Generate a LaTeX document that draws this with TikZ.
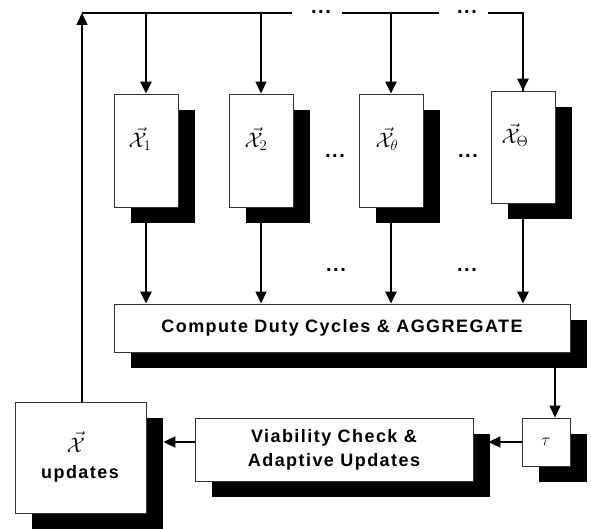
\RequirePackage{fix-cm}
\documentclass[tikz,border=0pt]{standalone}
\usepackage{fontspec}
\setsansfont{Liberation Sans}[LetterSpace=8]
\usetikzlibrary{arrows.meta,shadows}
\begin{document}
\begin{tikzpicture}[x=1pt,y=-1pt,
  shbox/.style={draw=black!80,line width=0.9pt,fill=white,inner sep=0pt,
     drop shadow={shadow xshift=17pt,shadow yshift=-16pt,fill=black,opacity=1}},
  xbox/.style={shbox,minimum width=64pt,minimum height=113pt},
  lbl/.style={font=\sffamily\bfseries\fontsize{18}{24}\selectfont,align=center},
  mlbl/.style={font=\fontsize{21}{23}\selectfont,inner sep=1pt},
  tlbl/.style={font=\fontsize{17}{19}\selectfont},
  dotsn/.style={font=\sffamily\bfseries\fontsize{20}{20}\selectfont,inner sep=0pt,text height=4pt,text depth=0pt},
  thk/.style={line width=2.6pt},
  thn/.style={line width=1.3pt},
  tip/.style={-{Triangle[length=12pt,width=11pt]}},
]
\useasboundingbox (0,0) rectangle (591,529);
% boxes
\node[xbox] (b1) at (146,150.5) {};
\node[xbox] (b2) at (261,150.5) {};
\node[xbox] (b3) at (391,150.5) {};
\node[xbox,minimum height=112pt] (b4) at (523,147) {};
\node[mlbl] (l1) at (140,139) {$\vec{\mathcal{X}}_1$};
\node[mlbl] (l2) at (256,139) {$\vec{\mathcal{X}}_2$};
\node[mlbl] (l3) at (387,139) {$\vec{\mathcal{X}}_\theta$};
\node[mlbl] (l4) at (515,135) {$\vec{\mathcal{X}}_\Theta$};
\node[shbox,minimum width=456pt,minimum height=48pt,lbl] (cmp) at (342,328) {Compute Duty Cycles \& AGGREGATE};
\node[shbox,minimum width=48pt,minimum height=48pt,tlbl] (tau) at (546,442) {$\tau$};
\node[shbox,minimum width=278pt,minimum height=63pt,lbl] (via) at (334,449.5) {Viability Check \&\\Adaptive Updates};
\node[shbox,minimum width=131pt,minimum height=111pt] (upd) at (80.5,457.5) {};
\node[mlbl] (ux) at (76,442) {$\vec{\mathcal{X}}$};
\node[lbl] (ut) at (80,474) {updates};
% dots
\node[dotsn] (d1) at (321,12) {...};
\node[dotsn] (d2) at (467,12) {...};
\node[dotsn] (d3) at (335,156) {...};
\node[dotsn] (d4) at (468,156) {...};
\node[dotsn] (d5) at (336,269) {...};
\node[dotsn] (d6) at (467,269) {...};
% bus
\coordinate (tl) at (82,13);
\coordinate (g1a) at (292,13);
\coordinate (g1b) at (342,13);
\coordinate (g2a) at (439,13);
\coordinate (g2b) at (488,13);
\coordinate (tr) at (523,13);
\draw[thk] (tl) -- (g1a);
\draw[thk] (g1b) -- (g2a);
\draw[thk,line join=miter] (g2b) -- (tr) -- (b4.north) ;
\draw[thn,tip] (upd.north -| tl) -- (tl);
\draw[thk,tip] (b1.north |- tl) -- (b1.north);
\draw[thn,tip] (b2.north |- tl) -- (b2.north);
\draw[thk,tip] (b3.north |- tl) -- (b3.north);
\draw[thk,tip] (tr) -- (b4.north);
% to compute
\draw[thk,tip] ([yshift=-16pt]b1.south) -- (b1.south |- cmp.north);
\draw[thn,tip] ([yshift=-16pt]b2.south) -- (b2.south |- cmp.north);
\draw[thk,tip] ([yshift=-16pt]b3.south) -- (b3.south |- cmp.north);
\draw[thk,tip] ([yshift=-16pt]b4.south) -- (b4.south |- cmp.north);
% bottom chain
\coordinate (cs) at (555,367);
\draw[thn,tip] (cs) -- (cs |- tau.north);
\draw[line width=2pt,tip] (tau.west) -- ([xshift=15pt]via.east |- tau.west);
\draw[line width=2pt,tip] (via.west |- tau.west) -- ([xshift=17pt]upd.east |- tau.west);
\end{tikzpicture}
\end{document}
